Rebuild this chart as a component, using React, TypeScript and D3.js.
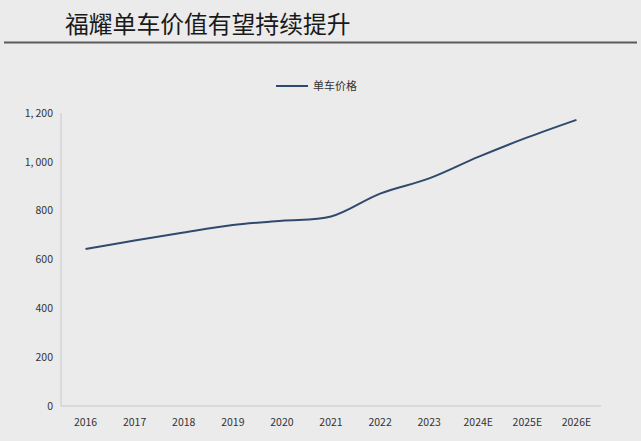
import { useRef, useEffect } from 'react';
import * as d3 from 'd3';

const years = ['2016', '2017', '2018', '2019', '2020', '2021', '2022', '2023', '2024E', '2025E', '2026E'];
const prices = [643, 678, 711, 741, 759, 776, 870, 932, 1020, 1100, 1172];
const yTicks = [0, 200, 400, 600, 800, 1000, 1200];

const title = '福耀单车价值有望持续提升';
const seriesName = '单车价格';

const W = 641;
const H = 441;
const FONT = '"Noto Sans CJK SC", "Noto Sans", sans-serif';

export default function App() {
    const ref = useRef<SVGSVGElement | null>(null);

    useEffect(() => {
        if (!ref.current) return;
        const svg = d3.select(ref.current);
        svg.selectAll('*').remove();

        svg.append('rect').attr('width', W).attr('height', H).attr('fill', '#ebebeb');

        // title + rule
        svg
            .append('text')
            .attr('x', 65)
            .attr('y', 33)
            .attr('font-family', FONT)
            .attr('font-size', 23.8)
            .attr('fill', '#1a1a1a')
            .text(title);
        svg
            .append('line')
            .attr('x1', 4)
            .attr('x2', 637)
            .attr('y1', 42.5)
            .attr('y2', 42.5)
            .attr('stroke', '#5a5a5a')
            .attr('stroke-width', 2);

        const left = 61;
        const right = 601;
        const top = 113;
        const bottom = 406;

        const x = d3.scaleBand<string>().domain(years).range([left, right]);
        const y = d3.scaleLinear().domain([0, 1200]).range([bottom, top]);

        // axes
        svg
            .append('line')
            .attr('x1', left)
            .attr('x2', left)
            .attr('y1', top)
            .attr('y2', bottom)
            .attr('stroke', '#c8c8c8');
        svg
            .append('line')
            .attr('x1', left)
            .attr('x2', right)
            .attr('y1', bottom)
            .attr('y2', bottom)
            .attr('stroke', '#c8c8c8');

        const fmt = (v: number) => (v >= 1000 ? d3.format(',')(v).replace(',', ',\u2009') : String(v));

        svg
            .append('g')
            .selectAll('text')
            .data(yTicks)
            .join('text')
            .attr('x', 53)
            .attr('y', (d) => y(d))
            .attr('dy', '0.35em')
            .attr('text-anchor', 'end')
            .attr('font-family', FONT)
            .attr('font-size', 10.5)
            .attr('fill', '#333')
            .text(fmt);

        svg
            .append('g')
            .selectAll('text')
            .data(years)
            .join('text')
            .attr('x', (d) => (x(d) ?? 0) + x.bandwidth() / 2)
            .attr('y', 426)
            .attr('text-anchor', 'middle')
            .attr('font-family', FONT)
            .attr('font-size', 10.5)
            .attr('fill', '#333')
            .text((d) => d);

        const line = d3
            .line<number>()
            .x((_, i) => (x(years[i]) ?? 0) + x.bandwidth() / 2)
            .y((d) => y(d))
            .curve(d3.curveCatmullRom.alpha(0.5));

        svg
            .append('path')
            .attr('d', line(prices))
            .attr('fill', 'none')
            .attr('stroke', '#2f4a6e')
            .attr('stroke-width', 2);

        // legend
        svg
            .append('line')
            .attr('x1', 276)
            .attr('x2', 308)
            .attr('y1', 86)
            .attr('y2', 86)
            .attr('stroke', '#2f4a6e')
            .attr('stroke-width', 2);
        svg
            .append('text')
            .attr('x', 313)
            .attr('y', 86)
            .attr('dy', '0.35em')
            .attr('font-family', FONT)
            .attr('font-size', 11)
            .attr('fill', '#333')
            .text(seriesName);
    }, []);

    return (
        <svg
            ref={ref}
            width={W}
            height={H}
            style={{ position: 'absolute', left: 0, top: 0, display: 'block' }}
        />
    );
}
